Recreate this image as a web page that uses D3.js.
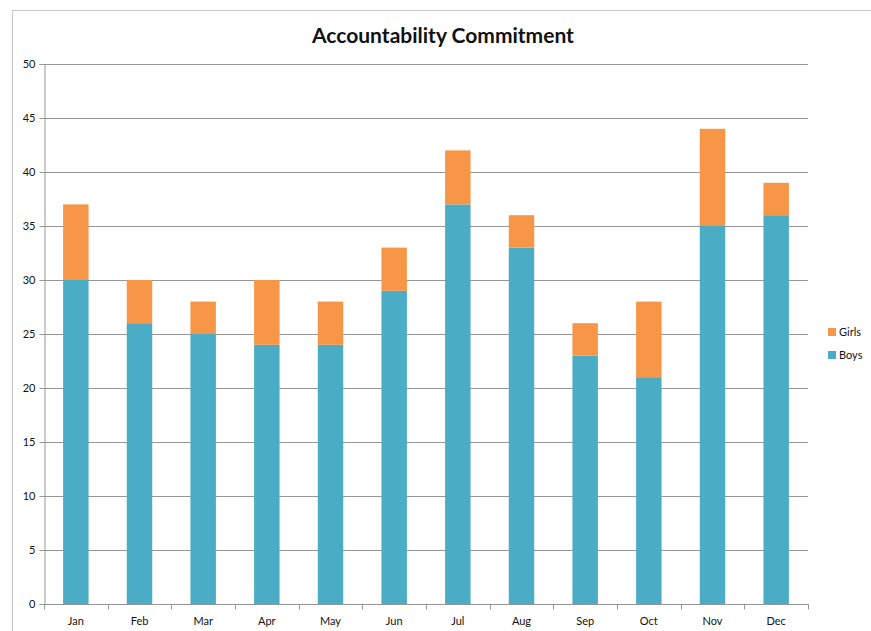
<!DOCTYPE html>
<html>
<head>
<meta charset="utf-8">
<script src="https://cdn.jsdelivr.net/npm/d3@7"></script>
<style>
  html, body { margin: 0; padding: 0; background: #fff; }
  svg { display: block; font-family: Lato, "Open Sans", sans-serif; }
</style>
</head>
<body>
<svg id="chart" width="871" height="631"></svg>
<script>
const months = ["Jan","Feb","Mar","Apr","May","Jun","Jul","Aug","Sep","Oct","Nov","Dec"];
const boys  = [30, 26, 25, 24, 24, 29, 37, 33, 23, 21, 35, 36];
const girls = [7, 4, 3, 6, 4, 4, 5, 3, 3, 7, 9, 3];
const seriesNames = ["Boys", "Girls"];
const seriesColors = ["#4BACC6", "#F79646"];
const yTicks = [0, 5, 10, 15, 20, 25, 30, 35, 40, 45, 50];

const svg = d3.select("#chart");
const W = 871, H = 631;
const plot = { left: 44, right: 808, top: 64, bottom: 604 };

// outer chart frame (top and left edges visible)
svg.append("path")
  .attr("d", `M12.5,${H} V10.5 H${W}`)
  .attr("fill", "none").attr("stroke", "#c8c8c8").attr("stroke-width", 1.2);

const x = d3.scaleBand().domain(months).range([plot.left, plot.right]).paddingInner(0.6).paddingOuter(0.3);
const band = d3.scaleBand().domain(months).range([plot.left, plot.right]);
const y = d3.scaleLinear().domain([0, 50]).range([plot.bottom, plot.top]);

// horizontal gridlines
svg.append("g").selectAll("line").data(yTicks.filter(t => t > 0)).join("line")
  .attr("x1", plot.left).attr("x2", plot.right)
  .attr("y1", d => Math.round(y(d)) + 0.5).attr("y2", d => Math.round(y(d)) + 0.5)
  .attr("stroke", "#969696").attr("stroke-width", 1);

// stacked bars
const rows = months.map((m, i) => ({ month: m, Boys: boys[i], Girls: girls[i] }));
const stack = d3.stack().keys(seriesNames)(rows);
svg.append("g").selectAll("g").data(stack).join("g")
  .attr("fill", (d, i) => seriesColors[i])
  .selectAll("rect").data(d => d).join("rect")
  .attr("x", d => x(d.data.month))
  .attr("width", x.bandwidth())
  .attr("y", d => y(d[1]))
  .attr("height", d => y(d[0]) - y(d[1]));

// y axis
const yAxis = d3.axisLeft(y).tickValues(yTicks).tickSize(5).tickPadding(4);
const gy = svg.append("g").attr("transform", `translate(${plot.left + 0.5},0)`).call(yAxis);
gy.select(".domain").attr("stroke", "#969696");
gy.selectAll(".tick line").attr("stroke", "#969696");
gy.selectAll(".tick text").attr("font-size", 11).attr("fill", "#111").attr("font-family", "Lato, sans-serif");

// x axis: ticks on category boundaries
const gx = svg.append("g").attr("transform", `translate(0,${plot.bottom + 0.5})`);
gx.append("line").attr("x1", plot.left).attr("x2", plot.right + 1).attr("stroke", "#969696");
const bounds = months.map(m => band(m)).concat([plot.right]);
gx.selectAll("line.tk").data(bounds).join("line").attr("class", "tk")
  .attr("x1", d => Math.round(d) + 0.5).attr("x2", d => Math.round(d) + 0.5)
  .attr("y1", 0).attr("y2", 5).attr("stroke", "#969696");
gx.selectAll("text").data(months).join("text")
  .attr("x", d => band(d) + band.bandwidth() / 2)
  .attr("y", 20)
  .attr("text-anchor", "middle")
  .attr("font-size", 11).attr("fill", "#111")
  .text(d => d);

// title
svg.append("text")
  .attr("x", 443).attr("y", 43)
  .attr("text-anchor", "middle")
  .attr("font-size", 21).attr("font-weight", "bold").attr("fill", "#111")
  .text("Accountability Commitment");

// legend (Girls listed above Boys)
const legendItems = [
  { name: "Girls", color: seriesColors[1] },
  { name: "Boys", color: seriesColors[0] }
];
const lg = svg.append("g").attr("transform", "translate(828,327)");
const li = lg.selectAll("g").data(legendItems).join("g")
  .attr("transform", (d, i) => `translate(0,${i * 23})`);
li.append("rect").attr("width", 8).attr("height", 8).attr("y", 1).attr("fill", d => d.color);
li.append("text").attr("x", 11).attr("y", 9).attr("font-size", 11).attr("fill", "#111").text(d => d.name);
</script>
</body>
</html>
